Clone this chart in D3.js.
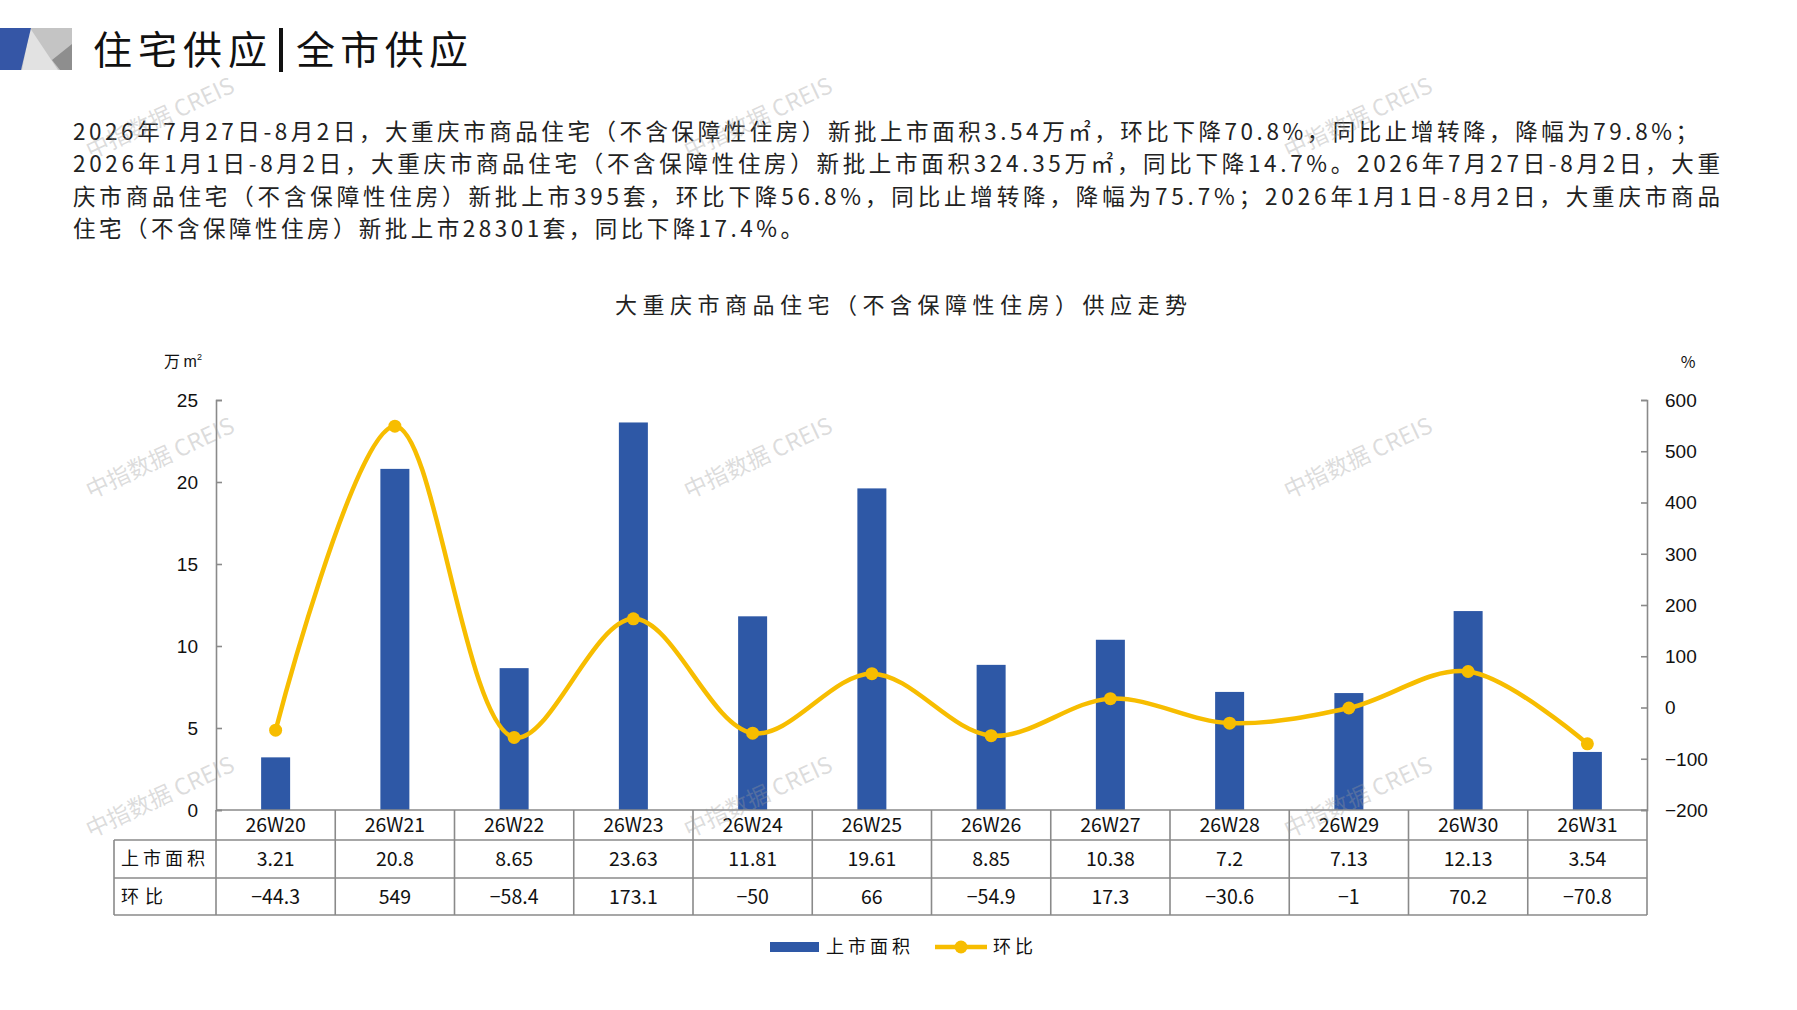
<!DOCTYPE html>
<html>
<head>
<meta charset="utf-8">
<script src="https://cdn.jsdelivr.net/npm/d3@7/dist/d3.min.js"></script>
<style>
  html, body { margin: 0; padding: 0; background: #ffffff; }
  svg { display: block; }
  text { font-family: "Noto Sans CJK SC", "Noto Sans", sans-serif; fill: #222; }
</style>
</head>
<body>
<svg id="chart" width="1797" height="1010"></svg>
<script>
// ---------- data ----------
const categories = ["26W20","26W21","26W22","26W23","26W24","26W25","26W26","26W27","26W28","26W29","26W30","26W31"];
const areaValues = [3.21, 20.8, 8.65, 23.63, 11.81, 19.61, 8.85, 10.38, 7.2, 7.13, 12.13, 3.54];
const momValues  = [-44.3, 549, -58.4, 173.1, -50, 66, -54.9, 17.3, -30.6, -1, 70.2, -70.8];
const leftTicks  = [0, 5, 10, 15, 20, 25];
const rightTicks = [-200, -100, 0, 100, 200, 300, 400, 500, 600];
const seriesNames = ["上市面积", "环比"];
const pageTitleA = "住宅供应";
const pageTitleB = "全市供应";
const chartTitle = "大重庆市商品住宅（不含保障性住房）供应走势";
const bodyLines = [
  "2026年7月27日-8月2日，大重庆市商品住宅（不含保障性住房）新批上市面积3.54万㎡，环比下降70.8%，同比止增转降，降幅为79.8%；",
  "2026年1月1日-8月2日，大重庆市商品住宅（不含保障性住房）新批上市面积324.35万㎡，同比下降14.7%。2026年7月27日-8月2日，大重",
  "庆市商品住宅（不含保障性住房）新批上市395套，环比下降56.8%，同比止增转降，降幅为75.7%；2026年1月1日-8月2日，大重庆市商品",
  "住宅（不含保障性住房）新批上市28301套，同比下降17.4%。"
];
const watermarkText = "中指数据 CREIS";

// ---------- layout ----------
const W = 1797, H = 1010;
const plot = { left: 216, right: 1647, top: 400, bottom: 810 };
const rowY = [810, 840, 878, 915];
const tableLeft = 114;
const BLUE = "#2E58A6", GOLD = "#F7BD00", AXIS = "#8a8a8a";

const svg = d3.select("#chart");
svg.append("rect").attr("width", W).attr("height", H).attr("fill", "#fff");

// ---------- header logo ----------
const logo = svg.append("g");
logo.append("polygon").attr("points", "0,28 72,28 72,70 0,70").attr("fill", "#c4c4c4");
logo.append("polygon").attr("points", "30,28 58,70 22,70").attr("fill", "#e2e2e2");
logo.append("polygon").attr("points", "52,60 72,44 72,70 60,70").attr("fill", "#8e8e8e");
logo.append("polygon").attr("points", "0,28 31,28 21,70 0,70").attr("fill", "#3556A6");

svg.append("text").attr("x", 93).attr("y", 64).attr("font-size", 39)
  .attr("textLength", 174).attr("lengthAdjust", "spacing").style("fill", "#111").text(pageTitleA);
svg.append("rect").attr("x", 279).attr("y", 28).attr("width", 4).attr("height", 44).attr("fill", "#111");
svg.append("text").attr("x", 296).attr("y", 64).attr("font-size", 39)
  .attr("textLength", 172).attr("lengthAdjust", "spacing").style("fill", "#111").text(pageTitleB);

// ---------- body text ----------
const lineY = [132, 164, 197, 229];
const lineLen = [1625, 1647, 1647, 730];
bodyLines.forEach((t, i) => {
  svg.append("text").attr("x", 73).attr("y", lineY[i]).attr("dy", "0.35em")
    .attr("font-size", 22.5).attr("textLength", lineLen[i]).attr("lengthAdjust", "spacing")
    .style("fill", "#222").text(t);
});

// ---------- chart title ----------
svg.append("text").attr("x", 615).attr("y", 305).attr("dy", "0.35em").attr("font-size", 22)
  .attr("textLength", 572).attr("lengthAdjust", "spacing").style("fill", "#222").text(chartTitle);

// ---------- scales ----------
const x = d3.scaleBand().domain(categories).range([plot.left, plot.right]).paddingInner(0).paddingOuter(0);
const yL = d3.scaleLinear().domain([0, 25]).range([plot.bottom, plot.top]);
const yR = d3.scaleLinear().domain([-200, 600]).range([plot.bottom, plot.top]);

// ---------- bars ----------
const barW = 29;
svg.append("g").selectAll("rect").data(areaValues).join("rect")
  .attr("x", (d, i) => x(categories[i]) + x.bandwidth() / 2 - barW / 2)
  .attr("y", d => yL(d))
  .attr("width", barW)
  .attr("height", d => yL(0) - yL(d))
  .attr("fill", BLUE);

// ---------- axes ----------
const axL = svg.append("g").attr("transform", `translate(${plot.left},0)`)
  .call(d3.axisRight(yL).tickValues(leftTicks).tickSize(6).tickFormat(""));
const axR = svg.append("g").attr("transform", `translate(${plot.right},0)`)
  .call(d3.axisLeft(yR).tickValues(rightTicks).tickSize(6).tickFormat(""));
[axL, axR].forEach(a => {
  a.selectAll("path").attr("stroke", AXIS).attr("stroke-width", 1.6);
  a.selectAll("line").attr("stroke", AXIS).attr("stroke-width", 1.6);
});
svg.append("g").selectAll("text").data(leftTicks).join("text")
  .attr("x", 198).attr("y", d => yL(d)).attr("dy", "0.36em").attr("text-anchor", "end")
  .attr("font-size", 19).style("font-family", "'Liberation Sans', Arial, sans-serif").style("fill", "#111")
  .text(d => d);
svg.append("g").selectAll("text").data(rightTicks).join("text")
  .attr("x", 1665).attr("y", d => yR(d)).attr("dy", "0.36em").attr("text-anchor", "start")
  .attr("font-size", 19).style("font-family", "'Liberation Sans', Arial, sans-serif").style("fill", "#111")
  .text(d => d < 0 ? "\u2212" + Math.abs(d) : d);

// unit labels
const unitL = svg.append("text").attr("x", 164).attr("y", 367).attr("font-size", 16).style("fill", "#111");
unitL.append("tspan").text("万 ");
unitL.append("tspan").style("font-family", "'Liberation Sans', Arial, sans-serif").text("m");
unitL.append("tspan").attr("font-size", 9).attr("dy", -7).style("font-family", "'Liberation Sans', Arial, sans-serif").text("2");
svg.append("text").attr("x", 1688).attr("y", 362).attr("dy", "0.35em").attr("text-anchor", "middle")
  .attr("font-size", 16).style("fill", "#111").text("%");

// ---------- line ----------
const line = d3.line()
  .x((d, i) => x(categories[i]) + x.bandwidth() / 2)
  .y(d => yR(d))
  .curve(d3.curveCatmullRom.alpha(0.5));
svg.append("path").datum(momValues).attr("d", line)
  .attr("fill", "none").attr("stroke", GOLD).attr("stroke-width", 4.5).attr("stroke-linejoin", "round");
svg.append("g").selectAll("circle").data(momValues).join("circle")
  .attr("cx", (d, i) => x(categories[i]) + x.bandwidth() / 2)
  .attr("cy", d => yR(d)).attr("r", 6.5).attr("fill", GOLD);

// ---------- data table ----------
const tbl = svg.append("g");
const tStroke = AXIS;
tbl.append("line").attr("x1", plot.left).attr("x2", plot.right).attr("y1", rowY[0]).attr("y2", rowY[0]);
[1, 2, 3].forEach(r => tbl.append("line").attr("x1", tableLeft).attr("x2", plot.right).attr("y1", rowY[r]).attr("y2", rowY[r]));
tbl.append("line").attr("x1", tableLeft).attr("x2", tableLeft).attr("y1", rowY[1]).attr("y2", rowY[3]);
const bounds = categories.map(c => x(c)).concat([plot.right]);
bounds.forEach(bx => tbl.append("line").attr("x1", bx).attr("x2", bx).attr("y1", rowY[0]).attr("y2", rowY[3]));
tbl.selectAll("line").attr("stroke", tStroke).attr("stroke-width", 1.6);

const cellText = (rowIdx, arr) => tbl.append("g").selectAll("text").data(arr).join("text")
  .attr("x", (d, i) => x(categories[i]) + x.bandwidth() / 2)
  .attr("y", (rowY[rowIdx] + rowY[rowIdx + 1]) / 2).attr("dy", "0.36em")
  .attr("text-anchor", "middle").attr("font-size", 19.5).style("fill", "#111")
  .text(d => String(d).replace("-", "\u2212"));
cellText(0, categories);
cellText(1, areaValues);
cellText(2, momValues);
seriesNames.forEach((n, k) => {
  tbl.append("text").attr("x", 121).attr("y", (rowY[k + 1] + rowY[k + 2]) / 2).attr("dy", "0.36em")
    .attr("font-size", 18).attr("letter-spacing", n.length > 2 ? 4 : 6).style("fill", "#111").text(n);
});

// ---------- legend ----------
const lg = svg.append("g");
lg.append("rect").attr("x", 770).attr("y", 942).attr("width", 49).attr("height", 10).attr("fill", BLUE);
lg.append("text").attr("x", 826).attr("y", 947).attr("dy", "0.36em").attr("font-size", 18)
  .attr("letter-spacing", 4).style("fill", "#111").text(seriesNames[0]);
lg.append("line").attr("x1", 935).attr("x2", 987).attr("y1", 947).attr("y2", 947)
  .attr("stroke", GOLD).attr("stroke-width", 4.5);
lg.append("circle").attr("cx", 961).attr("cy", 947).attr("r", 6.5).attr("fill", GOLD);
lg.append("text").attr("x", 993).attr("y", 947).attr("dy", "0.36em").attr("font-size", 18)
  .attr("letter-spacing", 4).style("fill", "#111").text(seriesNames[1]);

// ---------- watermarks ----------
const wmX = [160, 758, 1358], wmY = [118, 458, 797];
const wm = svg.append("g").attr("pointer-events", "none");
wmY.forEach(yy => wmX.forEach(xx => {
  wm.append("text").attr("transform", `translate(${xx},${yy}) rotate(-25)`)
    .attr("text-anchor", "middle").attr("dy", "0.35em").attr("font-size", 23)
    .style("fill", "#9a9a9a").style("fill-opacity", 0.35).text(watermarkText);
}));
</script>
</body>
</html>
